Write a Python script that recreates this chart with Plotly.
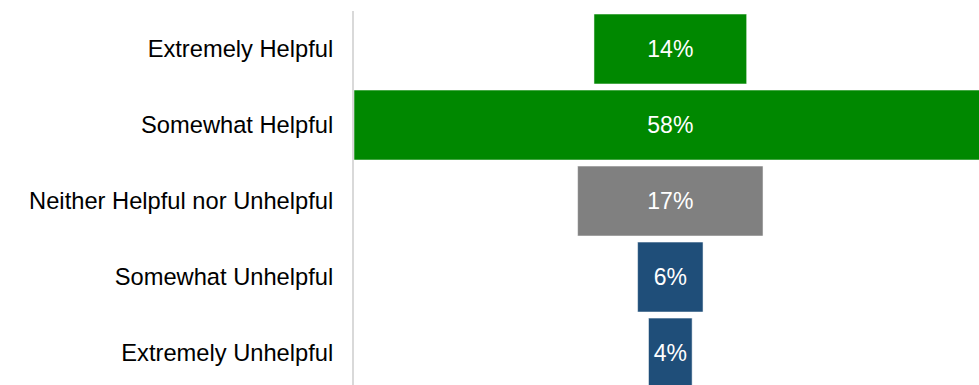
import plotly.graph_objects as go

categories = ["Extremely Helpful", "Somewhat Helpful", "Neither Helpful nor Unhelpful",
              "Somewhat Unhelpful", "Extremely Unhelpful"]
values = [14, 58, 17, 6, 4]
labels = ["14%", "58%", "17%", "6%", "4%"]
colors = ["#008800", "#008800", "#808080", "#1F4E79", "#1F4E79"]

fig = go.Figure(go.Funnel(
    y=categories,
    x=values,
    text=labels,
    textinfo="text",
    textposition="inside",
    insidetextanchor="middle",
    textfont=dict(color="white", size=23, family="Liberation Sans, Arial"),
    marker=dict(color=colors, line=dict(color="rgba(255,255,255,0.5)", width=1)),
    connector=dict(visible=False),
    width=0.92,
    constraintext="none",
))

fig.update_layout(
    width=979, height=385,
    margin=dict(l=354, r=0, t=11, b=0),
    paper_bgcolor="white", plot_bgcolor="white",
    showlegend=False,
    font=dict(family="Liberation Sans, Arial", size=24, color="#000000"),
)
fig.update_xaxes(range=[-29, 28.3], visible=False, fixedrange=True)
fig.update_yaxes(range=[4.42, -0.5], autorange=False, showline=True, linecolor="#d9d9d9",
                 linewidth=2, ticks="", ticklabelstandoff=14, showgrid=False,
                 tickfont=dict(size=23.7, color="#000000"))

fig.write_html("out.html",
               config={"displayModeBar": False},
               post_script="document.body.style.margin='0px';document.body.style.overflow='hidden';")
